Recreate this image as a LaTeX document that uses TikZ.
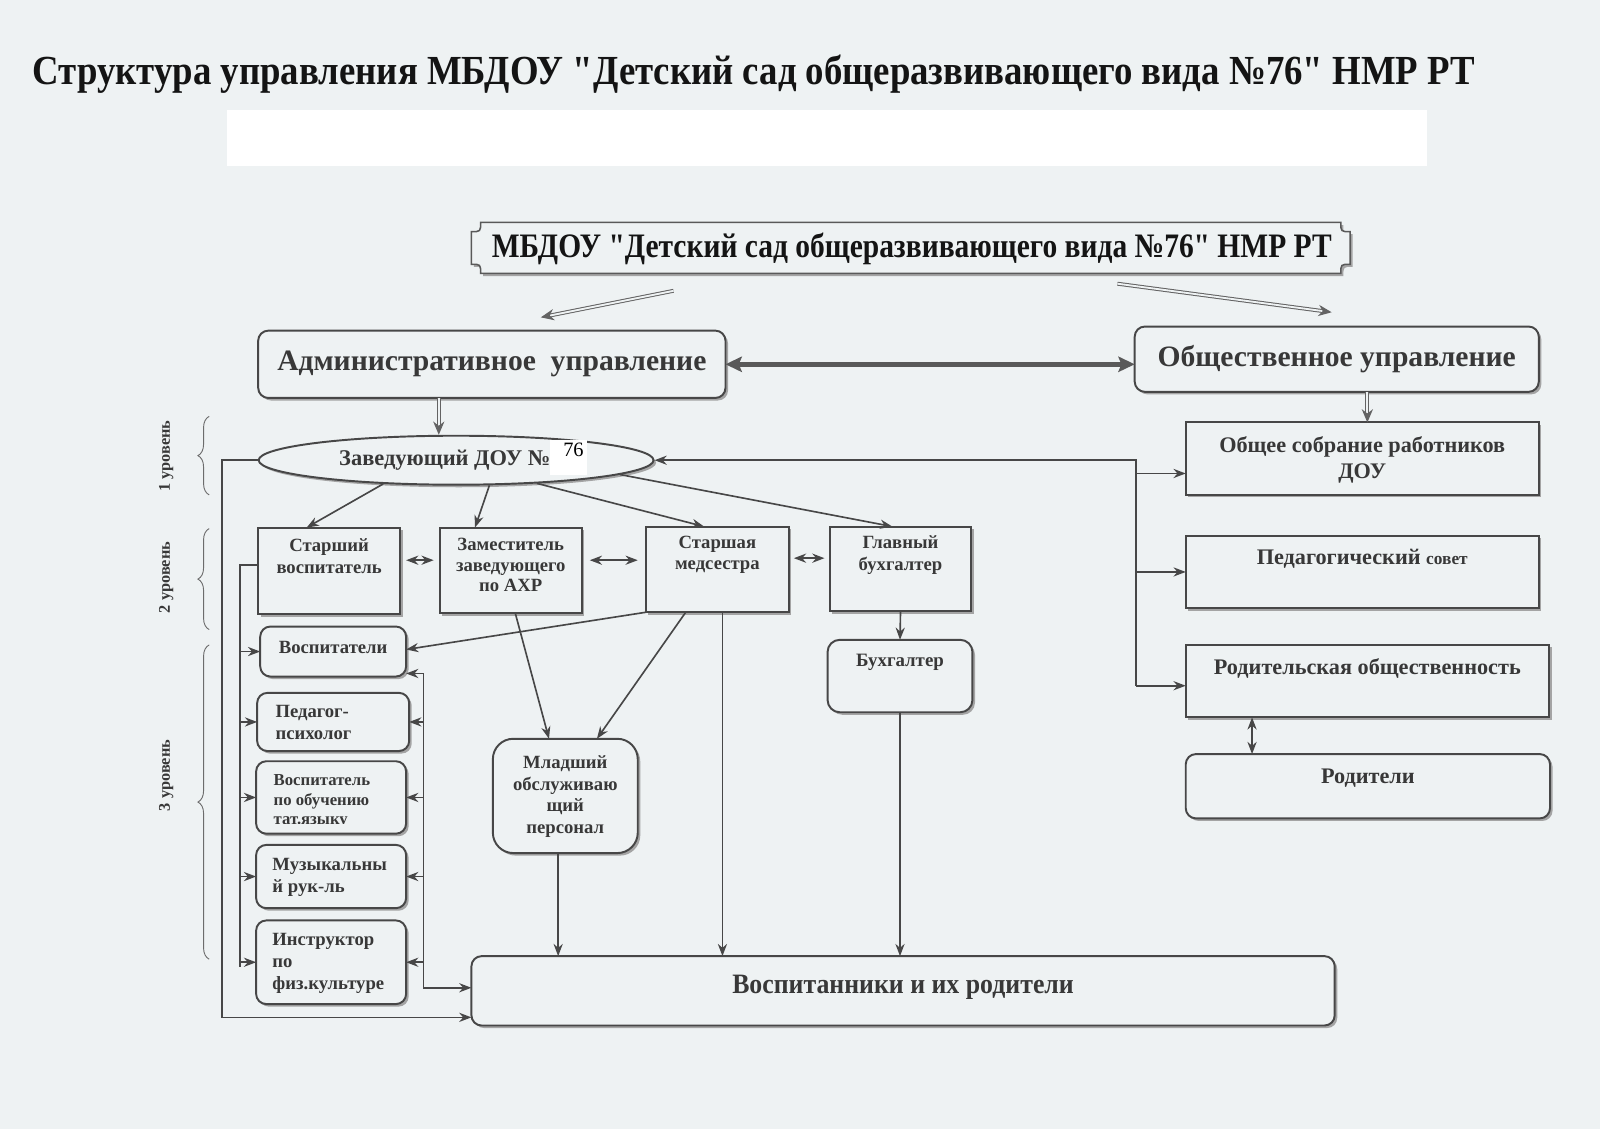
\documentclass[tikz,border=0pt]{standalone}
\usepackage{fontspec}
\setmainfont{Liberation Serif}
\newfontfamily\narrowf[FakeStretch=0.89]{Liberation Serif}
\newfontfamily\narrowg[FakeStretch=0.86]{Liberation Serif}
\newfontfamily\narrowh[FakeStretch=0.92]{Liberation Serif}
\usetikzlibrary{arrows.meta,shapes.geometric,shadows,decorations.pathreplacing}
\definecolor{bgc}{HTML}{EEF2F3}
\definecolor{inkc}{HTML}{383838}
\definecolor{linec}{HTML}{474747}
\definecolor{shc}{HTML}{9C9C9C}
\newcommand\tb[4]{\parbox[c][#2pt][t]{#1pt}{\vspace*{#3pt}#4\par}}
\newcommand\fsz[2]{\fontsize{#1}{#2}\selectfont\bfseries}
\begin{document}
\begin{tikzpicture}[x=1pt,y=-1pt,
  shd/.style={drop shadow={shadow xshift=2.5pt,shadow yshift=-2.5pt,fill=shc,opacity=0.9}},
  box/.style={draw=linec,line width=1.9pt,fill=bgc,inner sep=0pt,outer sep=0pt,text=inkc,shd},
  rbox/.style={box,rounded corners=10pt},
  conn/.style={draw=linec,line width=1.6pt},
  arr/.style={conn,-{Stealth[length=12pt,width=9pt]}},
  darr/.style={conn,{Stealth[length=12pt,width=9pt]}-{Stealth[length=12pt,width=9pt]}},
  dline/.style={draw=linec!85,line width=1pt,double=bgc,double distance=1.8pt,-{Stealth[length=13pt,width=11pt]}},
  tdarr/.style={draw=linec!90,line width=4.5pt,{Stealth[length=16pt,width=15pt,inset=3pt]}-{Stealth[length=16pt,width=15pt,inset=3pt]}},
  txt/.style={text=inkc,inner sep=0pt},
  brc/.style={draw=linec!80,line width=0.9pt,decorate,decoration={brace,amplitude=11pt}},
  lvl/.style={txt,rotate=90,font=\fsz{16}{16}},
]
\fill[bgc] (0,0) rectangle (1568,1106.4);
\useasboundingbox (0,0) rectangle (1568,1106.4);

% title
\node[txt,text=black!92,anchor=west,font=\narrowf\bfseries\fontsize{40.5}{40.5}\selectfont] (title) at (32,73) {Структура управления МБДОУ "Детский сад общеразвивающего вида №76" НМР РТ};
\fill[white] (222,108) rectangle (1398,163);

% top plaque
\draw[draw=linec!90,line width=1.5pt,fill=bgc,shd] (471,218) -- (1314,218) .. controls (1314,227) .. (1323,227) -- (1323,259) .. controls (1314,259) .. (1314,268) -- (471,268) .. controls (471,259) .. (462,259) -- (462,227) .. controls (471,227) .. (471,218) -- cycle;
\node[txt,text=black!92,minimum width=861pt,minimum height=50pt,font=\narrowg\bfseries\fontsize{33.6}{33.6}\selectfont] (top) at (893.5,244) {МБДОУ "Детский сад общеразвивающего вида №76" НМР РТ};

% management boxes
\node[rbox,minimum width=458pt,minimum height=66pt,font=\fsz{29}{32}] (admin) at (482,357) {Административное\ \ управление};
\node[rbox,minimum width=396pt,minimum height=64pt,font=\fsz{29}{32}] (pub) at (1310,352) {Общественное управление};

% head
\node[ellipse,draw=linec,line width=1.9pt,fill=bgc,shd,minimum width=387pt,minimum height=48pt,inner sep=0pt] (zav) at (447,451) {};
\node[txt,font=\fsz{22}{22}] (zavt) at (436,451) {Заведующий ДОУ №};
\node[fill=white,minimum width=36pt,minimum height=34pt,inner sep=0pt] (numbg) at (557,448.5) {};
\node[text=black,inner sep=0pt,font=\fontsize{20}{20}\selectfont] (num) at (562,441) {76};

% level 2
\node[box] (sv) at (322.5,559.5) {\tb{139}{85}{11}{\centering\fsz{18.3}{21}Старший\\воспитатель}};
\node[box] (zam) at (500.5,559) {\tb{139}{84}{10}{\centering\fsz{18.3}{20.5}Заместитель\\заведующего\\по АХР}};
\node[box] (med) at (703,558) {\tb{140}{84}{9}{\centering\fsz{18.3}{21}Старшая\\медсестра}};
\node[box] (gb) at (882.5,557.5) {\tb{139}{83}{9}{\centering\fsz{18.3}{21}Главный\\бухгалтер}};

% level 3
\node[rbox] (vosp) at (326.5,638.5) {\tb{143}{49}{14}{\centering\fsz{18.3}{21}Воспитатели}};
\node[rbox] (psy) at (326.5,707.5) {\tb{149}{57}{12}{\raggedright\leftskip=18pt\fsz{18.3}{21.5}Педагог-\\психолог}};
\node[rbox,minimum width=147pt,minimum height=71pt] (tat) at (324.5,781.5) {};
\begin{scope}
\clip (240,740) rectangle (410,807);
\node[txt,anchor=north west,align=left,font=\fsz{16.4}{19}] (tatt) at (268,759) {Воспитатель\\по обучению\\тат.языку};
\end{scope}
\node[rbox] (muz) at (324.5,859) {\tb{147}{62}{13}{\raggedright\leftskip=16pt\fsz{18.3}{22}Музыкальны\\й рук-ль}};
\node[rbox] (instr) at (324.5,943) {\tb{147}{82}{13}{\raggedright\leftskip=16pt\fsz{18.3}{21.5}Инструктор\\по\\физ.культуре}};

\node[box,rounded corners=20pt] (mlad) at (554,780) {\tb{142}{112}{17}{\centering\fsz{18.3}{21}Младший\\обслуживаю\\щий\\персонал}};
\node[box,rounded corners=12pt] (buh) at (882,662.5) {\tb{142}{71}{14}{\centering\fsz{18.5}{21}Бухгалтер}};
\node[rbox] (vos) at (885,971) {\tb{846}{68}{19}{\centering\narrowh\bfseries\fontsize{27.5}{30}\selectfont Воспитанники и их родители}};

% right column
\node[box] (obs) at (1335,449.5) {\tb{346}{71}{14}{\centering\fsz{21.8}{25}Общее собрание работников\\ДОУ}};
\node[box] (ped) at (1335,560.5) {\tb{346}{71}{13}{\centering\fsz{21.8}{25}Педагогический {\fontsize{17}{17}\selectfont совет}}};
\node[box] (rod) at (1340,667.5) {\tb{356}{71}{13}{\centering\fsz{21.8}{25}Родительская общественность}};
\node[rbox] (par) at (1340.5,770.5) {\tb{357}{63}{15}{\centering\fsz{21.8}{25}Родители}};

% level braces and labels
\draw[brc] (205,485) -- (205,408);
\draw[brc] (205,617) -- (205,518);
\draw[brc] (205,940) -- (205,632);
\node[lvl] (l1) at (163,447) {1 уровень};
\node[lvl] (l2) at (163,566) {2 уровень};
\node[lvl] (l3) at (163,760) {3 уровень};

% connectors: top
\coordinate (t1s) at (660,285); \coordinate (t1e) at (530,311);
\coordinate (t2s) at (1095,278); \coordinate (t2e) at (1305,306);
\draw[dline] (t1s) -- (t1e);
\draw[dline] (t2s) -- (t2e);
\draw[tdarr] (admin.east) -- (admin.east -| pub.west);
\coordinate (az) at ([xshift=-52pt]admin.south);
\draw[dline] (az) -- (az |- zav.north);
\coordinate (po) at ([xshift=30pt]pub.south);
\draw[dline] (po) -- (po |- obs.north);

% head to level 2
\draw[arr] (zav.-162.8) -- ([xshift=-22pt]sv.north);
\draw[arr] (zav.-37) -- ([xshift=-35pt]zam.north);
\draw[arr] (zav.-16) -- ([xshift=-13pt]med.north);
\draw[arr] (zav.-5.5) -- ([xshift=-8pt]gb.north);

% between level 2
\draw[darr,shorten <=6pt,shorten >=6pt] ([yshift=10.5pt]sv.east) -- ([yshift=10.5pt]sv.east -| zam.west);
\draw[darr,shorten <=8pt,shorten >=8pt] ([yshift=10pt]zam.east) -- ([yshift=10pt]zam.east -| med.west);
\draw[darr,shorten <=5pt,shorten >=5pt] ([yshift=11pt]med.east) -- ([yshift=11pt]med.east -| gb.west);

% level 2 downwards
\draw[arr] (gb.south) -- (buh.north);
\draw[arr] (buh.south) -- (buh.south |- vos.north);
\draw[arr] (med.south west) -- ([yshift=2pt]vosp.east);
\draw[arr] ([xshift=4.5pt]zam.south) -- ([xshift=-16pt]mlad.north);
\draw[arr] ([xshift=-31pt]med.south) -- ([xshift=31pt]mlad.north);
\coordinate (mv) at ([xshift=5pt]med.south);
\draw[arr] (mv) -- (mv |- vos.north);
\coordinate (lv) at ([xshift=-7pt]mlad.south);
\draw[arr] (lv) -- (lv |- vos.north);

% outer left bus
\draw[arr] (zav.west) -- ++(-35,0) |- ([yshift=-26pt]vos.west);

% inner left bus
\coordinate (bi) at (235,0);
\coordinate (biend) at (235,948);
\draw[conn] ([yshift=6pt]sv.west) -| (biend);
\draw[arr] (bi |- vosp.west) -- (vosp.west);
\draw[arr] (bi |- psy.west) -- (psy.west);
\draw[arr] (bi |- tat.west) -- (tat.west);
\draw[arr] (bi |- muz.west) -- (muz.west);
\draw[arr] (bi |- instr.west) -- (instr.west);

% right bus of level 3
\draw[darr] ([yshift=-21.5pt]vosp.east) -- ++(17,0) |- ([yshift=3pt]vos.west);
\coordinate (br) at (415,0);
\draw[arr] (br |- psy.east) -- (psy.east);
\draw[arr] (br |- tat.east) -- (tat.east);
\draw[arr] (br |- muz.east) -- (muz.east);
\draw[arr] (br |- instr.east) -- (instr.east);

% right bus of public bodies
\coordinate (bR) at (1113,0);
\coordinate (rodA) at ([yshift=-4.5pt]rod.west);
\coordinate (obsA) at ([yshift=-14.5pt]obs.west);
\draw[arr] (bR |- rodA) |- (zav.east);
\draw[arr] (bR |- rodA) -- (rodA);
\draw[arr] (bR |- obsA) -- (obsA);
\draw[arr] (bR |- ped.west) -- (ped.west);

\coordinate (rp) at ([xshift=-113pt]rod.south);
\draw[darr] (rp) -- (rp |- par.north);
\end{tikzpicture}
\end{document}
